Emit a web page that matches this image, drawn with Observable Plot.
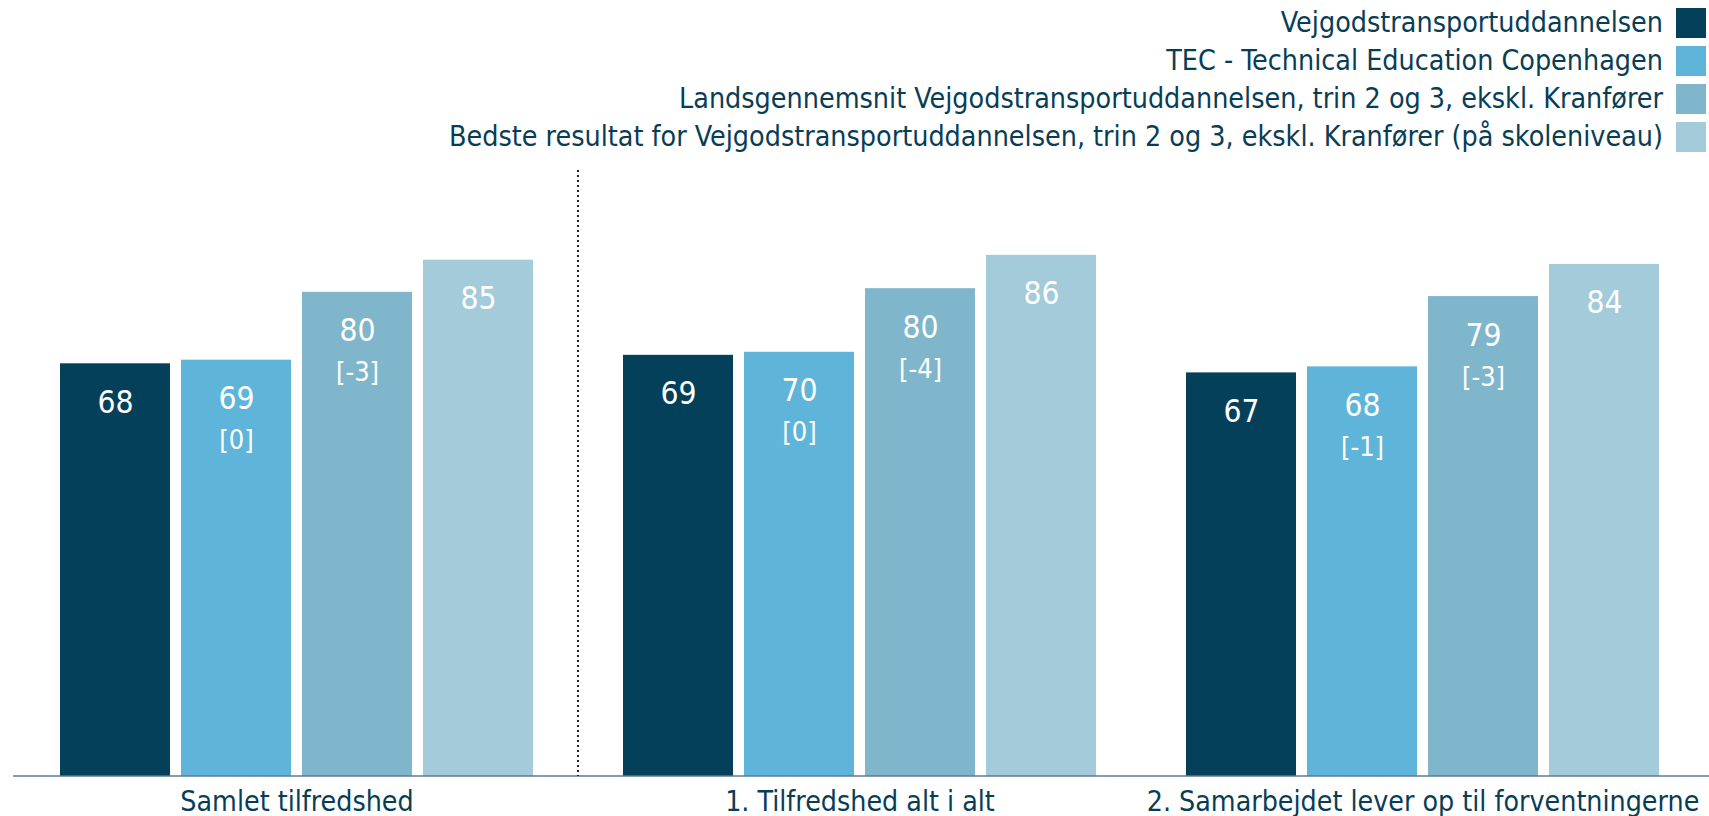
<!DOCTYPE html>
<html>
<head>
<meta charset="utf-8">
<script src="https://cdn.jsdelivr.net/npm/d3@7"></script>
<script src="https://cdn.jsdelivr.net/npm/@observablehq/plot@0.6"></script>
<style>
  html, body { margin: 0; padding: 0; background: #ffffff; }
  body { width: 1709px; height: 816px; overflow: hidden; font-family: "DejaVu Sans Condensed", "DejaVu Sans", sans-serif; font-stretch: condensed; }
  #legend { height: 160px; box-sizing: border-box; padding-top: 8px; padding-right: 3px; display: flex; flex-direction: column; align-items: flex-end; }
  .row { display: flex; align-items: center; height: 30px; margin-bottom: 8px; }
  .row span { font-size: 28.4px; line-height: 30px; color: #083d56; white-space: nowrap; }
  .row i { display: block; width: 30px; height: 30px; margin-left: 13px; }
  #chart svg { display: block; }
</style>
</head>
<body>
<div id="legend"></div>
<div id="chart"></div>
<script>
const categories = ["Samlet tilfredshed", "1. Tilfredshed alt i alt", "2. Samarbejdet lever op til forventningerne"];
const series = [
  "Vejgodstransportuddannelsen",
  "TEC - Technical Education Copenhagen",
  "Landsgennemsnit Vejgodstransportuddannelsen, trin 2 og 3, ekskl. Kranfører",
  "Bedste resultat for Vejgodstransportuddannelsen, trin 2 og 3, ekskl. Kranfører (på skoleniveau)"
];
const colors = ["#044059", "#5fb5d9", "#80b6cb", "#a3cbd9"];

// bar heights, per category
const vejgods = [68.1, 69.5, 66.6];
const tec     = [68.7, 70.0, 67.6];
const lands   = [79.9, 80.5, 79.2];
const bedste  = [85.2, 86.0, 84.5];

// printed value labels
const vejgodsLabels = [68, 69, 67];
const tecLabels     = [69, 70, 68];
const landsLabels   = [80, 80, 79];
const bedsteLabels  = [85, 86, 84];

// printed differences in brackets
const tecDiff   = [0, 0, -1];
const landsDiff = [-3, -4, -3];

const textColor = "#083d56";

const seriesValues = [vejgods, tec, lands, bedste];
const seriesLabels = [vejgodsLabels, tecLabels, landsLabels, bedsteLabels];
const seriesDiffs = [null, tecDiff, landsDiff, null];

const rows = [];
categories.forEach((cat, i) => {
  series.forEach((s, j) => {
    rows.push({
      cat, series: s,
      value: seriesValues[j][i],
      label: String(seriesLabels[j][i]),
      diff: seriesDiffs[j] ? `[${seriesDiffs[j][i]}]` : null
    });
  });
});

// legend
const legend = document.getElementById("legend");
series.forEach((s, j) => {
  const row = document.createElement("div");
  row.className = "row";
  const span = document.createElement("span");
  span.textContent = s;
  const sw = document.createElement("i");
  sw.style.background = colors[j];
  row.appendChild(span); row.appendChild(sw);
  legend.appendChild(row);
});

const font = '"DejaVu Sans Condensed", "DejaVu Sans", sans-serif';

const chart = Plot.plot({
  width: 1709,
  height: 656,
  marginTop: 10,
  marginBottom: 40,
  marginLeft: 13,
  marginRight: 2,
  style: { fontFamily: font, background: "transparent", overflow: "visible" },
  fx: { domain: categories, paddingInner: 0.156, paddingOuter: 0.08, axis: null, label: null },
  x: { domain: series, paddingInner: 0.09, paddingOuter: 0, axis: null, label: null },
  y: { domain: [0, 100], axis: null },
  color: { domain: series, range: colors },
  marks: [
    Plot.barY(rows, { fx: "cat", x: "series", y: "value", fill: "series" }),
    Plot.text(rows, { fx: "cat", x: "series", y: "value", text: "label", lineAnchor: "bottom", dy: 49, fill: "white", fontSize: 31.5 }),
    Plot.text(rows.filter(d => d.diff !== null), { fx: "cat", x: "series", y: "value", text: "diff", lineAnchor: "bottom", dy: 89, fill: "white", fontSize: 27 }),
    Plot.text(categories, { fx: d => d, frameAnchor: "bottom", lineAnchor: "bottom", dy: 34, text: d => d, fill: textColor, fontSize: 28.3 })
  ]
});

document.getElementById("chart").appendChild(chart);

// baseline axis line and dotted separator, placed through the plot's scales
const fxS = chart.scale("fx");
const yS = chart.scale("y");
const fxApply = fxS.apply ? fxS.apply : (v => d3.scaleBand().domain(fxS.domain).range(fxS.range).paddingInner(fxS.paddingInner).paddingOuter(fxS.paddingOuter)(v));
const bw = fxS.bandwidth;
const y0 = yS.apply(0), y100 = yS.apply(100);
const svg = d3.select(chart);
svg.append("line")
  .attr("x1", fxS.range[0]).attr("x2", 1709)
  .attr("y1", y0).attr("y2", y0)
  .attr("stroke", "#5b7a97").attr("stroke-width", 1.5);
const sepX = (fxApply(categories[0]) + bw + fxApply(categories[1])) / 2;
svg.append("line")
  .attr("x1", sepX).attr("x2", sepX)
  .attr("y1", y100).attr("y2", y0)
  .attr("stroke", "#222").attr("stroke-width", 2).attr("stroke-dasharray", "2 3");
</script>
</body>
</html>
